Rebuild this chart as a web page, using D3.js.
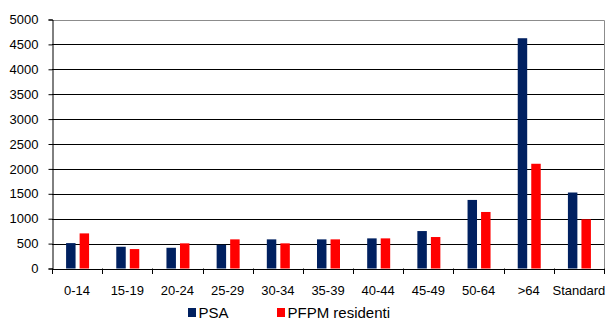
<!DOCTYPE html>
<html>
<head>
<meta charset="utf-8">
<script src="https://cdn.jsdelivr.net/npm/d3@7"></script>
<style>
  body { margin: 0; background: #fff; }
  text { font-family: "Liberation Sans", Arial, sans-serif; fill: #000; }
</style>
</head>
<body>
<svg width="608" height="320"></svg>
<script>
var categories = ["0-14","15-19","20-24","25-29","30-34","35-39","40-44","45-49","50-64",">64","Standard"];
var seriesNames = ["PSA","PFPM residenti"];
var psa = [510, 437, 416, 477, 585, 585, 605, 752, 1377, 4624, 1526];
var pfpm = [705, 390, 505, 585, 505, 585, 605, 632, 1135, 2103, 988];
var yTicks = [0,500,1000,1500,2000,2500,3000,3500,4000,4500,5000];
var colors = ["#002060", "#ff0000"];

var svg = d3.select("svg");
var plotL = 52, plotR = 604, plotT = 19.5, plotB = 268.5;

var x = d3.scaleBand().domain(categories).range([plotL, plotR]);
var x1 = d3.scaleBand().domain(seriesNames).range([-11, 12]).paddingInner(0.3);
var y = d3.scaleLinear().domain([0, 5000]).range([plotB, plotT]);

// gridlines
svg.append("g").selectAll("line")
  .data(yTicks.filter(function(d){ return d > 0 && d < 5000; }))
  .enter().append("line")
  .attr("x1", plotL).attr("x2", plotR)
  .attr("y1", function(d){ return Math.round(y(d)) + 0.5; })
  .attr("y2", function(d){ return Math.round(y(d)) + 0.5; })
  .attr("stroke", "#000").attr("stroke-width", 1);

// plot border top/right (gray)
svg.append("path")
  .attr("d", "M" + plotL + "," + (Math.round(plotT) + 0.5) + "H" + (plotR + 0.5) + "V" + plotB)
  .attr("fill", "none").attr("stroke", "#8c8c8c");

// bars
var rows = categories.map(function(c, i){ return {cat: c, vals: [psa[i], pfpm[i]]}; });
var grp = svg.append("g").selectAll("g").data(rows).enter().append("g")
  .attr("transform", function(d){ return "translate(" + (x(d.cat) + x.bandwidth() / 2) + ",0)"; });
grp.selectAll("rect")
  .data(function(d){ return d.vals.map(function(v, j){ return {s: seriesNames[j], v: v, c: colors[j]}; }); })
  .enter().append("rect")
  .attr("x", function(d){ return x1(d.s); })
  .attr("width", x1.bandwidth())
  .attr("y", function(d){ return y(d.v); })
  .attr("height", function(d){ return plotB - y(d.v); })
  .attr("fill", function(d){ return d.c; });

// y axis
var yAxis = d3.axisLeft(y).tickValues(yTicks).tickSize(4).tickPadding(10).tickFormat(d3.format("d"));
var ya = svg.append("g").attr("transform", "translate(" + (plotL + 0.5) + ",0)").call(yAxis);
ya.select(".domain").attr("stroke", "#000");
ya.selectAll("line").attr("stroke", "#000");
ya.selectAll("text").attr("font-size", 13).attr("font-family", "Liberation Sans, Arial, sans-serif");

// x axis: ticks at band edges
svg.append("line")
  .attr("x1", plotL).attr("x2", plotR + 1)
  .attr("y1", Math.round(plotB) + 0.5).attr("y2", Math.round(plotB) + 0.5)
  .attr("stroke", "#000");
var edges = categories.map(function(c){ return x(c); }).concat([plotR]);
svg.append("g").selectAll("line").data(edges).enter().append("line")
  .attr("x1", function(d){ return Math.round(d) + 0.5; })
  .attr("x2", function(d){ return Math.round(d) + 0.5; })
  .attr("y1", plotB).attr("y2", plotB + 5.5)
  .attr("stroke", "#000");
svg.append("g").selectAll("text").data(categories).enter().append("text")
  .attr("x", function(d){ return x(d) + x.bandwidth() / 2; })
  .attr("y", 295)
  .attr("text-anchor", "middle")
  .attr("font-size", 13)
  .text(function(d){ return d; });

// legend
var legX = [188, 277];
var leg = svg.append("g").selectAll("g").data(seriesNames).enter().append("g")
  .attr("transform", function(d, i){ return "translate(" + legX[i] + ",0)"; });
leg.append("rect")
  .attr("x", 0).attr("y", 308).attr("width", 8).attr("height", 9)
  .attr("fill", function(d, i){ return colors[i]; });
leg.append("text")
  .attr("x", 10.5).attr("y", 317.5)
  .attr("font-size", 15)
  .text(function(d){ return d; });
</script>
</body>
</html>
